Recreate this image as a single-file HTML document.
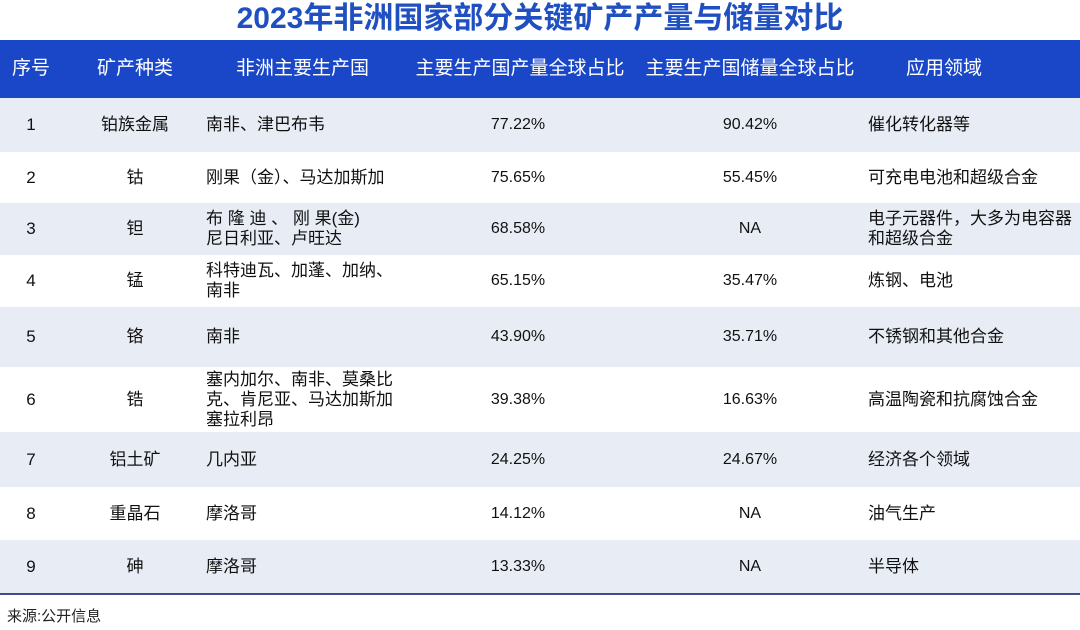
<!DOCTYPE html>
<html><head><meta charset="utf-8"><style>
*{margin:0;padding:0;box-sizing:border-box}
body{width:1080px;height:630px;background:#fff;font-family:"Liberation Sans","Noto Sans CJK SC",sans-serif;position:relative;overflow:hidden;color:#111}
.title{position:absolute;top:0;left:0;width:1080px;text-align:center;font-size:30px;font-weight:bold;color:#1f4fc0;line-height:38px}
.hdr{position:absolute;top:40px;left:0;width:1080px;height:58px;background:#1a47c8;color:#fff;font-size:19px}
.row{position:absolute;left:0;width:1080px;font-size:17px}
.s{background:#e8edf5}
.c{position:absolute;top:0;height:100%;display:flex;align-items:center;line-height:20px;white-space:nowrap}
.c1{left:0;width:62px;justify-content:center}
.c2{left:80px;width:110px;justify-content:center}
.c3{left:206px;width:200px}
.c4{left:418px;width:200px;justify-content:center;font-size:16px}
.c5{left:650px;width:200px;justify-content:center;font-size:16px}
.c6{left:868px;width:212px}
.bl{position:absolute;left:0;top:593px;width:1080px;height:2px;background:#3b4f8c}
.src{position:absolute;left:7px;top:605px;font-size:15px;color:#222}
</style></head><body>
<div class="title">2023年非洲国家部分关键矿产产量与储量对比</div>
<div class="hdr">
<div class="c c1">序号</div><div class="c c2">矿产种类</div><div class="c c3" style="left:236px">非洲主要生产国</div><div class="c c4" style="font-size:19px;left:410px;width:220px">主要生产国产量全球占比</div><div class="c c5" style="font-size:19px;left:640px;width:220px">主要生产国储量全球占比</div><div class="c c6" style="justify-content:center;padding-right:60px">应用领域</div>
</div>
<div class="row s" style="top:98px;height:54px"><div class="c c1">1</div><div class="c c2">铂族金属</div><div class="c c3">南非、津巴布韦</div><div class="c c4">77.22%</div><div class="c c5">90.42%</div><div class="c c6">催化转化器等</div></div>
<div class="row" style="top:152px;height:51px"><div class="c c1">2</div><div class="c c2">钴</div><div class="c c3">刚果（金）、马达加斯加</div><div class="c c4">75.65%</div><div class="c c5">55.45%</div><div class="c c6">可充电电池和超级合金</div></div>
<div class="row s" style="top:203px;height:52px"><div class="c c1">3</div><div class="c c2">钽</div><div class="c c3">布 隆 迪 、 刚 果(金)<br>尼日利亚、卢旺达</div><div class="c c4">68.58%</div><div class="c c5">NA</div><div class="c c6">电子元器件，大多为电容器<br>和超级合金</div></div>
<div class="row" style="top:255px;height:52px"><div class="c c1">4</div><div class="c c2">锰</div><div class="c c3">科特迪瓦、加蓬、加纳、<br>南非</div><div class="c c4">65.15%</div><div class="c c5">35.47%</div><div class="c c6">炼钢、电池</div></div>
<div class="row s" style="top:307px;height:60px"><div class="c c1">5</div><div class="c c2">铬</div><div class="c c3">南非</div><div class="c c4">43.90%</div><div class="c c5">35.71%</div><div class="c c6">不锈钢和其他合金</div></div>
<div class="row" style="top:367px;height:65px"><div class="c c1">6</div><div class="c c2">锆</div><div class="c c3">塞内加尔、南非、莫桑比<br>克、肯尼亚、马达加斯加<br>塞拉利昂</div><div class="c c4">39.38%</div><div class="c c5">16.63%</div><div class="c c6">高温陶瓷和抗腐蚀合金</div></div>
<div class="row s" style="top:432px;height:55px"><div class="c c1">7</div><div class="c c2">铝土矿</div><div class="c c3">几内亚</div><div class="c c4">24.25%</div><div class="c c5">24.67%</div><div class="c c6">经济各个领域</div></div>
<div class="row" style="top:487px;height:53px"><div class="c c1">8</div><div class="c c2">重晶石</div><div class="c c3">摩洛哥</div><div class="c c4">14.12%</div><div class="c c5">NA</div><div class="c c6">油气生产</div></div>
<div class="row s" style="top:540px;height:53px"><div class="c c1">9</div><div class="c c2">砷</div><div class="c c3">摩洛哥</div><div class="c c4">13.33%</div><div class="c c5">NA</div><div class="c c6">半导体</div></div>
<div class="bl"></div>
<div class="src">来源:公开信息</div>
</body></html>
